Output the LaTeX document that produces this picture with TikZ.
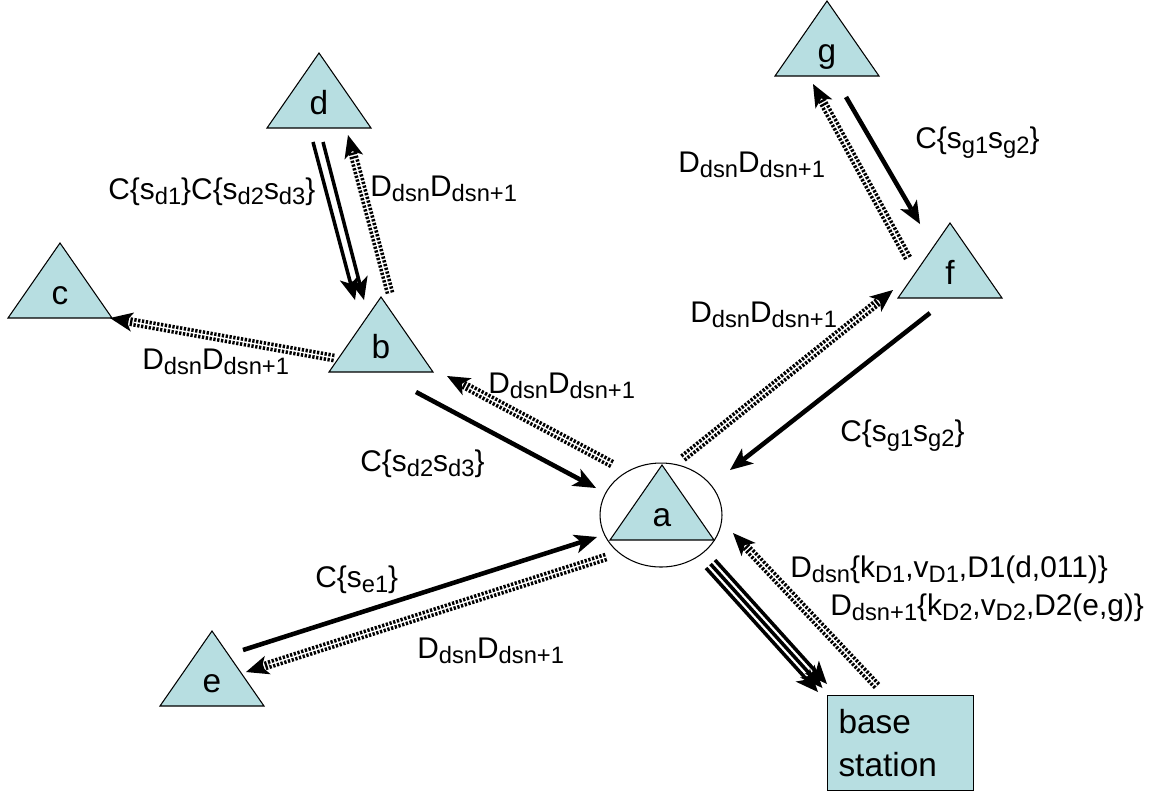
\documentclass[tikz,border=0pt]{standalone}
\usepackage{fontspec}
\setmainfont{Liberation Sans}
\usetikzlibrary{arrows.meta}
\definecolor{nodeblue}{RGB}{183,222,225}
\newcommand{\lo}[1]{\raisebox{-.2em}{\fontsize{13.5}{16}\selectfont #1}}
\tikzset{
  tri/.style={draw,fill=nodeblue,line width=.6pt},
  tritext/.style={anchor=base,inner sep=0pt,font=\fontsize{19}{22}\selectfont},
  lbl/.style={inner sep=0pt,anchor=base west,font=\fontsize{17}{20}\selectfont},
  head/.style={-{Stealth[length=13pt,width=11pt,inset=3.5pt,line width=0pt]}},
  msg/.style={head,line width=2.6pt},
  pair/.style={head,line width=2pt},
  dsn/.style={head,line width=5pt,dash pattern=on 1.3pt off 0.9pt,
    postaction={draw=white,line width=.8pt,solid,-,shorten >=14pt}},
}
\begin{document}
\begin{tikzpicture}[x=0.02cm,y=-0.02cm]
\useasboundingbox (0,0) rectangle (1165,796);

\draw[line width=.6pt] (661,515) ellipse [x radius=1.22cm,y radius=1.04cm];
\foreach \n/\x/\y in {d/319/128,g/827/76,c/60/318,b/381/372,f/950/298,e/212/706,a/662/540}{
  \draw[tri] (\x-52,\y)--(\x+52,\y)--(\x,\y-75)--cycle;
  \node[tritext] (\n) at (\x,\y-14) {\n};
}
\node[draw,fill=nodeblue,line width=.6pt,anchor=north west,minimum width=2.92cm,minimum height=1.9cm,
  text width=2.48cm,inner sep=.22cm,align=left,font=\fontsize{19}{24}\selectfont] (bs) at (827,695) {base\\station};

\foreach \n/\x/\y in {db1s/313/142,db1t/355/300,db2s/323/142,db2t/364/300,
  bas/416/392,bat/596/488,fas/930/313,fat/730/470,gfs/846/97,gft/920/224,
  eas/243/650,eat/597/537,as1s/706/568,as1t/818/692,as2s/710.5/564,as2t/822.5/688,
  as3s/715/560,as3t/827/684,
  bds/390/293,bdt/348/135,bcs/334/358,bct/110/318,abs/612/464,abt/447/376,
  afs/683/458,aft/893/290,fgs/908/258,fgt/813/84,aes/606/557,aet/246/672,
  sas/877/686,sat/733/533}
  \coordinate (\n) at (\x,\y);

\draw[pair] (db1s)--(db1t);
\draw[pair] (db2s)--(db2t);
\draw[msg] (bas)--(bat);
\draw[msg] (fas)--(fat);
\draw[msg] (gfs)--(gft);
\draw[msg] (eas)--(eat);
\draw[pair] (as1s)--(as1t);
\draw[pair] (as2s)--(as2t);
\draw[pair] (as3s)--(as3t);

\draw[dsn] (bds)--(bdt);
\draw[dsn] (bcs)--(bct);
\draw[dsn] (abs)--(abt);
\draw[dsn] (afs)--(aft);
\draw[dsn] (fgs)--(fgt);
\draw[dsn] (aes)--(aet);
\draw[dsn] (sas)--(sat);

\node[lbl] (cd) at (108,199) {C\{s\lo{d1}\}C\{s\lo{d2}s\lo{d3}\}};
\node[lbl] (dbd) at (370,196) {D\lo{dsn}D\lo{dsn+1}};
\node[lbl] (dbc) at (142,369) {D\lo{dsn}D\lo{dsn+1}};
\node[lbl] (dab) at (488,393) {D\lo{dsn}D\lo{dsn+1}};
\node[lbl] (cba) at (360,471) {C\{s\lo{d2}s\lo{d3}\}};
\node[lbl] (daf) at (690,322) {D\lo{dsn}D\lo{dsn+1}};
\node[lbl] (cfa) at (840,441) {C\{s\lo{g1}s\lo{g2}\}};
\node[lbl] (dfg) at (678,172) {D\lo{dsn}D\lo{dsn+1}};
\node[lbl] (cgf) at (915,148) {C\{s\lo{g1}s\lo{g2}\}};
\node[lbl] (cea) at (315,587) {C\{s\lo{e1}\}};
\node[lbl] (dae) at (417,658) {D\lo{dsn}D\lo{dsn+1}};
\node[lbl] (kd1) at (790,577) {D\lo{dsn}\{k\lo{D1},v\lo{D1},D1(d,011)\}};
\node[lbl] (kd2) at (830,615) {D\lo{dsn+1}\{k\lo{D2},v\lo{D2},D2(e,g)\}};
\end{tikzpicture}
\end{document}
